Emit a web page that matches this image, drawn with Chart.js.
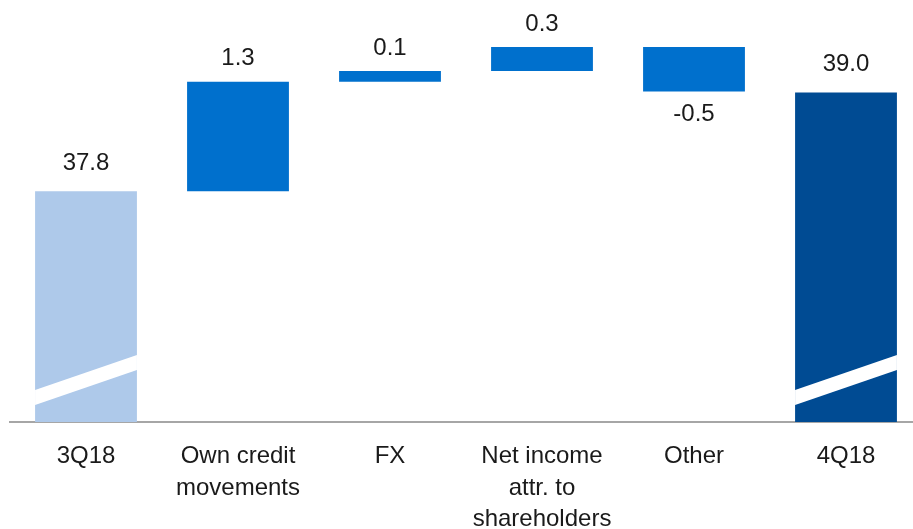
<!DOCTYPE html>
<html>
<head>
<meta charset="utf-8">
<script src="https://cdn.jsdelivr.net/npm/chart.js@4"></script>
<style>
  html, body { margin: 0; padding: 0; background: #fff; overflow: hidden; }
  #wrap { width: 922px; height: 529px; position: relative; }
</style>
</head>
<body>
<div id="wrap"><canvas id="waterfall"></canvas></div>
<script>
// categories and values (totals for first/last, changes in between)
var categories = [["3Q18"], ["Own credit", "movements"], ["FX"], ["Net income", "attr. to", "shareholders"], ["Other"], ["4Q18"]];
var values = [37.8, 1.33, 0.13, 0.29, -0.54, 39.0];
var isTotal = [true, false, false, false, false, true];
var axisMin = 35;
var axisMax = 40;

var colors = ["#aec9ea", "#0070cd", "#0070cd", "#0070cd", "#0070cd", "#004b93"];

// build floating ranges for the waterfall
var ranges = [];
var running = 0;
for (var i = 0; i < values.length; i++) {
  if (isTotal[i]) {
    ranges.push([axisMin, values[i]]);
    running = values[i];
  } else {
    ranges.push([running, running + values[i]]);
    running = running + values[i];
  }
}

var labelPlugin = {
  id: 'valueLabels',
  afterDatasetsDraw: function(chart) {
    var ctx = chart.ctx;
    var meta = chart.getDatasetMeta(0);
    var yScale = chart.scales.y;
    ctx.save();
    // axis break stripes on the total bars
    meta.data.forEach(function(bar, i) {
      if (!isTotal[i]) return;
      var base = yScale.getPixelForValue(axisMin);
      var l = bar.x - bar.width / 2, r = bar.x + bar.width / 2;
      ctx.fillStyle = "#ffffff";
      ctx.beginPath();
      ctx.moveTo(l, base - 17);
      ctx.lineTo(l, base - 32);
      ctx.lineTo(r, base - 67);
      ctx.lineTo(r, base - 52);
      ctx.closePath();
      ctx.fill();
    });
    ctx.font = "24px 'Liberation Sans', Arial, sans-serif";
    ctx.fillStyle = "#1a1a1a";
    ctx.textAlign = "center";
    ctx.textBaseline = "middle";
    meta.data.forEach(function(bar, i) {
      var v = values[i];
      var txt = v.toFixed(1);
      var top = yScale.getPixelForValue(Math.max(ranges[i][0], ranges[i][1]));
      var bottom = yScale.getPixelForValue(Math.min(ranges[i][0], ranges[i][1]));
      if (v < 0) {
        ctx.fillText(txt, bar.x, bottom + 23);
      } else {
        ctx.fillText(txt, bar.x, top - (isTotal[i] ? 28 : 23));
      }
    });
    ctx.restore();
  }
};

var ctx = document.getElementById("waterfall").getContext('2d');
var chart = new Chart(ctx, {
  type: 'bar',
  data: {
    labels: categories,
    datasets: [{
      data: ranges,
      backgroundColor: colors,
      borderWidth: 0,
      borderSkipped: false,
      categoryPercentage: 1,
      barPercentage: 0.67
    }]
  },
  options: {
    responsive: true,
    maintainAspectRatio: false,
    animation: false,
    layout: { padding: { left: 10, right: 0, top: 10, bottom: 0 } },
    plugins: {
      legend: { display: false },
      tooltip: { enabled: false }
    },
    scales: {
      x: {
        grid: { display: false, drawTicks: false },
        border: { display: true, color: "#a6a6a6", width: 2 },
        ticks: {
          color: "#1a1a1a",
          padding: 18,
          maxRotation: 0,
          autoSkip: false,
          font: { family: "'Liberation Sans', Arial, sans-serif", size: 24, lineHeight: 1.33 }
        },
        afterFit: function(scale) { scale.height = 107; }
      },
      y: {
        display: false,
        min: axisMin,
        max: axisMax
      }
    }
  },
  plugins: [labelPlugin]
});
</script>
</body>
</html>
